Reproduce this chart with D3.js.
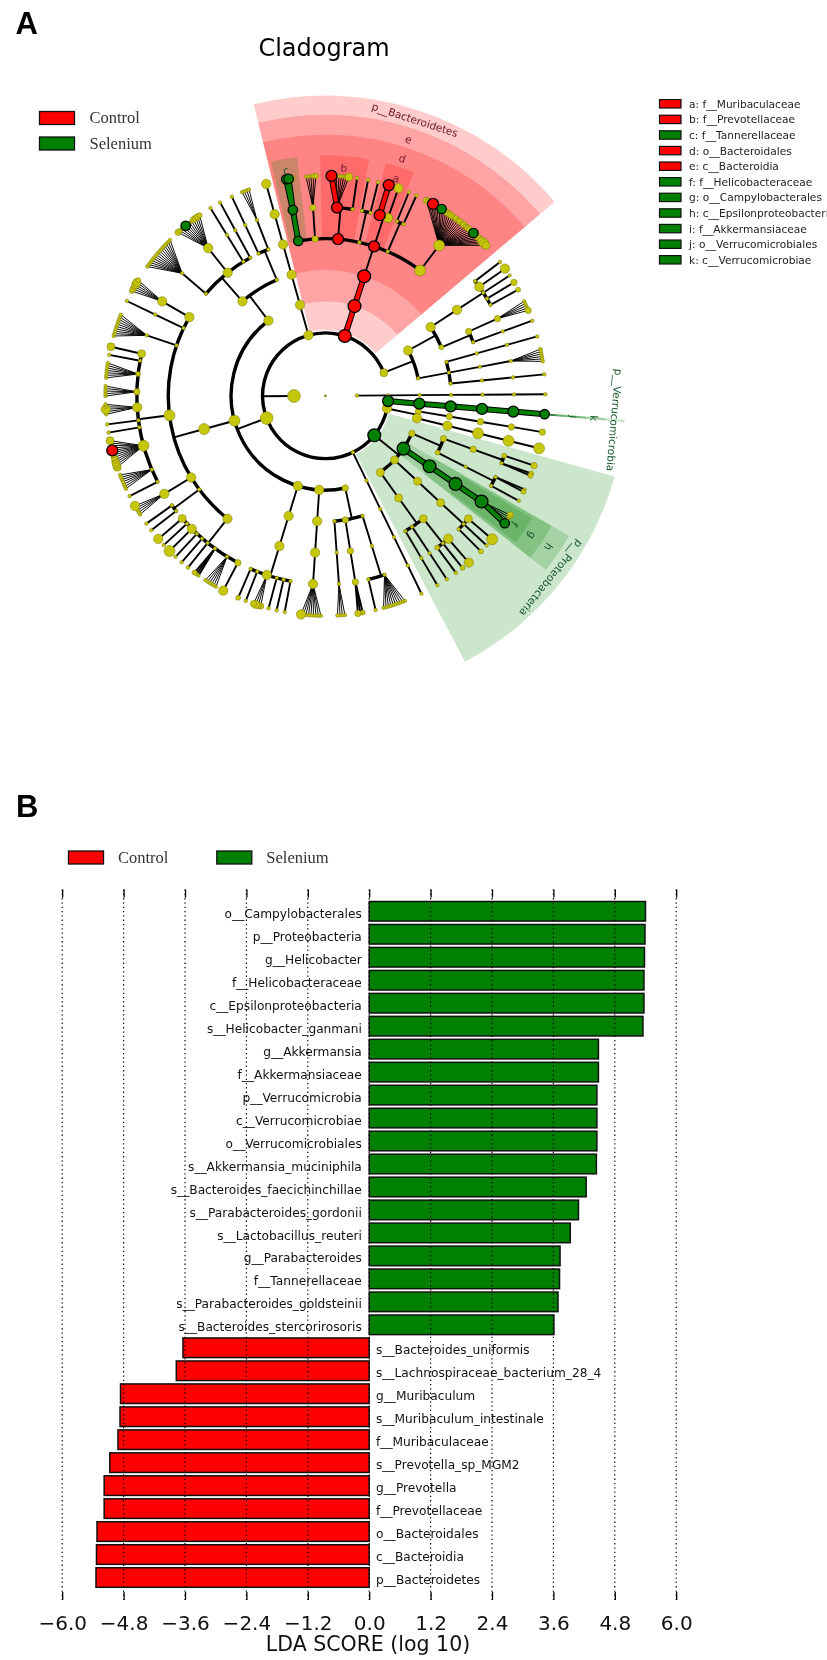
<!DOCTYPE html>
<html><head><meta charset="utf-8">
<script src="https://d3js.org/d3.v7.min.js"></script>
<style>html,body{margin:0;padding:0;background:#fff;overflow:hidden}svg{display:block;filter:blur(.4px)}</style>
</head><body><svg id="c" width="827" height="1660"></svg>
<script>
// ---------- Cladogram clades. [head, ...children]; head = size class, optional colour, optional label.
// A string child lists species: digit = size class, r / g = biomarker species, + = half a degree of extra gap.
const cladeOther = [1,[1,[1,[1,[1,[1,"1"]]]]]];
const cladeVerrucomicrobia = ["g6:p__Verrucomicrobia",["g6:k",["g6:j",["g6:i",["g6","g"]]]]];
const cladeP3 = [5,[3,[3,[3,[3,"3"]]]],[5,[5,[6,[6,"6"]]]]];
const cladeProteobacteria = ["g7:p__Proteobacteria",
  [3,[3,[3,[2,"3"],[1,"22"]]],[2,[1,[1,"+12"],[1,"+1"]]]],
  ["g7:h",["g7:g",["g7:f",["g7","3112g"]]]],
  [4,[4,[4,[4,"++6"],[1,"1"],[1,"2"]]]],
  [4,[4,[4,[5,"5"],[1,"2"],[2,"1"]],[1,[1,"1"]],[1,[1,"1"]]]]
];
const cladeThin = [1,[1,[1,[1,[1,"1"]]]]];
const cladeFirmicutes = [7,
  [3,[1,[1,[1,"1111111111"],[1,"1"]]],[3,[3,[3,"213"]]],[1,[1,[1,"1111"]]]],
  [5,[5,[5,[5,"111111115"]]]],
  [5,[5,[5,[1,"1"],[1,"1"],[1,"1"],[5,"3343"],[1,"1"],[1,"2"]]]],
  [6,[6,
    [5,[3,"5"],[1,"111111"],[1,"112"],[1,"1"],[1,"1"],[1,"1"],[5,"6"],[1,"1"],[4,"5"]],
    [1,[1,"1"],[1,"1"]],
    [5,[5,"11115"]],
    [6,[1,"1"],[1,"1111111"],[6,"4443322r1114"],[1,"1"],[1,"1"],[5,"+11511"],[3,"11111"],[2,"1111111"],[1,"1"],[4,"4"]],
    [1,[1,"1111111111"]],
    [1,[1,"++1"]],
    [5,[5,"232442"]]
  ]],
  [5,
    [5,[1,[1,"111111111111111"]],[5,[5,"3211g1113332"]],[1,[1,"+1"]],[1,[1,"1"]]],
    [1,[1,[1,"1"]],[1,[1,"1111"]]]
  ]
];
const cladeP7 = [5,[5,[5,[5,[5,"5"]]]]];
const cladeBacteroidetes = ["r7:p__Bacteroidetes",["r7:e",["r7:d",
  ["g5:c",["g5","1gg4"]],
  [3,[3,"++11122"]],
  ["r6:b",["r6","+1r1111124"],[1,"1"]],
  [1,[1,"1"],[1,"+1"]],
  ["r6:a",["r6","r"],[5,"+5"]],
  [1,[1,"1"],[1,"1"]],
  [6,[6,"333r222g333332323232332g3333554"]]
]]];
const cladeP9 = [4,
  [5,
    [5,[5,[1,"++1"],[5,"5"],[1,"1"],[1,"3"],[1,"2"]]],
    [2,[3,[3,"11113"]],[1,[1,"1"]]]
  ],
  [1,[1,[1,[1,"1"]]],[1,[1,[1,"111111"]]],[1,[1,[1,"1"]]]]
];
const bacteriaClades = [cladeVerrucomicrobia,cladeP3,cladeProteobacteria,cladeThin,cladeFirmicutes,cladeP7,cladeBacteroidetes,cladeP9];
const treeSpec = [1,cladeOther,[7,...bacteriaClades]];
// gap (degrees) between neighbouring leaves, by depth of their common ancestor
const leafGapByDepth = [5.2,4.7,4.3,3.4,2.9,2.15,0.65];
const firstLeafAngle = 89.6;
const sizeClassRadius = [0,1.8,2.5,3.2,4,4.7,5.5,6.4];

const groupNames = ["Control","Selenium"];
const cladeLegend = [
 ["a: f__Muribaculaceae","r"],["b: f__Prevotellaceae","r"],["c: f__Tannerellaceae","g"],
 ["d: o__Bacteroidales","r"],["e: c__Bacteroidia","r"],["f: f__Helicobacteraceae","g"],
 ["g: o__Campylobacterales","g"],["h: c__Epsilonproteobacteria","g"],["i: f__Akkermansiaceae","g"],
 ["j: o__Verrucomicrobiales","g"],["k: c__Verrucomicrobiae","g"]];

// ---------- LDA bars
const barLabels = ["o__Campylobacterales","p__Proteobacteria","g__Helicobacter","f__Helicobacteraceae","c__Epsilonproteobacteria","s__Helicobacter_ganmani","g__Akkermansia","f__Akkermansiaceae","p__Verrucomicrobia","c__Verrucomicrobiae","o__Verrucomicrobiales","s__Akkermansia_muciniphila","s__Bacteroides_faecichinchillae","s__Parabacteroides_gordonii","s__Lactobacillus_reuteri","g__Parabacteroides","f__Tannerellaceae","s__Parabacteroides_goldsteinii","s__Bacteroides_stercorirosoris","s__Bacteroides_uniformis","s__Lachnospiraceae_bacterium_28_4","g__Muribaculum","s__Muribaculum_intestinale","f__Muribaculaceae","s__Prevotella_sp_MGM2","g__Prevotella","f__Prevotellaceae","o__Bacteroidales","c__Bacteroidia","p__Bacteroidetes"];
const barScores = [5.40,5.39,5.38,5.37,5.37,5.35,4.48,4.48,4.45,4.45,4.45,4.44,4.24,4.09,3.93,3.73,3.72,3.69,3.61,-3.64,-3.77,-4.86,-4.87,-4.91,-5.07,-5.18,-5.18,-5.32,-5.33,-5.34];
const ldaTicks = [-6,-4.8,-3.6,-2.4,-1.2,0,1.2,2.4,3.6,4.8,6];

// ---------- drawing
const COL = {y:"#c6c60a",r:"#ff0000",g:"#008000"};
const svg = d3.select("#c");
const SANS="'DejaVu Sans'";
const text=(g,x,y,s,size,fam,extra={})=>{const t=g.append("text").attr("x",x).attr("y",y).attr("font-size",size).attr("font-family",fam).attr("dominant-baseline","central").text(s);Object.entries(extra).forEach(([k,v])=>t.attr(k,v));return t;};

text(svg,15.5,23,"A",31,"'Liberation Sans'",{"font-weight":"bold"});
text(svg,16,806,"B",31,"'Liberation Sans'",{"font-weight":"bold"});
text(svg,324,48,"Cladogram",24,SANS,{"text-anchor":"middle"});

function legendPair(g,x,y,s,c,dx){
  g.append("rect").attr("x",x).attr("y",y).attr("width",35).attr("height",13).attr("fill",c).attr("stroke","#111").attr("stroke-width",1.3);
  text(g,x+dx,y+6,s,16.5,"'Liberation Serif'",{fill:"#333"});
}
legendPair(svg,39.5,111.5,groupNames[0],COL.r,50);
legendPair(svg,39.5,137,groupNames[1],COL.g,50);
legendPair(svg,68.5,851,groupNames[0],COL.r,49.5);
legendPair(svg,216.8,851,groupNames[1],COL.g,49.5);

cladeLegend.forEach(([s,c],i)=>{
  const y=103.8+i*15.6;
  svg.append("rect").attr("x",659.5).attr("y",y-4.2).attr("width",21.5).attr("height",8.4).attr("fill",COL[c]).attr("stroke","#111").attr("stroke-width",1.2);
  text(svg,689,y,s,10.6,SANS,{fill:"#222"});
});

// parse the tree
function parse(spec){
  const head=String(spec[0]);
  const [a,label]=head.split(":");
  const m=a.match(/^([rg]?)(\d)$/);
  const node={col:m[1]||"y",size:+m[2],label,children:[]};
  spec.slice(1).forEach(k=>{
    if(typeof k==="string"){ let extra=0; [...k].forEach(ch=>{
      if(ch==="+"){extra+=0.5;return;}
      if(ch==="r"||ch==="g") node.children.push({col:ch,size:ch==="r"?6:5,extra,children:[]});
      else node.children.push({col:"y",size:+ch,extra,children:[]});
      extra=0;
    });} else node.children.push(parse(k));
  });
  return node;
}
const root=d3.hierarchy(parse(treeSpec),d=>d.children.length?d.children:null);
const lcaDepth=(a,b)=>d3.min(a.path(b),n=>n.depth);
d3.cluster().size([360,1]).separation((a,b)=>leafGapByDepth[lcaDepth(a,b)]+(a.data.extra||0))(root);
const shift=firstLeafAngle-root.leaves()[0].x;
root.eachAfter(n=>{
  if(n.children){const lv=n.leaves();n.t0=lv[0].theta;n.t1=lv[lv.length-1].theta;n.theta=(n.t0+n.t1)/2;}
  else {n.theta=n.x+shift;n.t0=n.t1=n.theta;}
});

const cx=325.4,cy=395.8;
const rScale=d3.scaleLinear().domain([0,7]).range([0,220]);
const rad=d3.scaleLinear().domain([0,360]).range([0,2*Math.PI]);
const P=(t,r)=>d3.pointRadial(rad(t),r);
const g=svg.append("g").attr("transform",`translate(${cx},${cy})`);

// wedges
const outerFrac={2:1.365,3:1.278,4:1.187,5:1.093};
const labelFrac={2:1.32,3:1.226,4:1.135,5:1.04};
const marked=root.descendants().filter(n=>n.data.col!=="y"&&n.depth>=2&&n.depth<=5);
const wedge=d3.arc();
marked.forEach(n=>{
  const w=n.t1-n.t0, mg=w>0?(n.depth===5?2.2:2.9):0.25;
  g.append("path").attr("d",wedge({innerRadius:n.depth===2?rScale(2)+3:rScale(n.depth),outerRadius:220*outerFrac[n.depth],startAngle:rad(n.t0-mg),endAngle:rad(n.t1+mg)}))
   .attr("fill",COL[n.data.col]).attr("fill-opacity",0.2);
});

// edges
const edges=g.append("g").attr("fill","none").attr("stroke","#000");
const line=(a,b,w,c)=>edges.append("line").attr("x1",a[0]).attr("y1",a[1]).attr("x2",b[0]).attr("y2",b[1]).attr("stroke",c).attr("stroke-width",w).attr("stroke-linecap","round");
const bands=[];
root.descendants().forEach(n=>{
  if(!n.children||n.depth===0) return;
  const kids=n.children, from=P(n.theta,rScale(n.depth)), leafLevel=n.depth===6;
  if(kids.length>1&&!leafLevel){
    const r=rScale(n.depth+1);
    edges.append("path").attr("d",wedge({innerRadius:r,outerRadius:r,startAngle:rad(kids[0].theta),endAngle:rad(kids[kids.length-1].theta)})).attr("stroke-width",3.4).attr("stroke-linejoin","round");
    line(from,P(n.theta,r),1.9,"#000");
  } else kids.forEach(k=>{
    const to=P(k.theta,rScale(k.depth));
    if(k.data.col!=="y"&&n.data.col===k.data.col) bands.push([from,to,k.data.col]);
    else line(from,to,leafLevel&&kids.length>3?0.95:1.9,"#000");
  });
});
bands.forEach(b=>line(b[0],b[1],6,"#000"));
bands.forEach(b=>line(b[0],b[1],4,COL[b[2]]));

// nodes
const nodes=root.descendants().filter(n=>n.depth>0).sort((a,b)=>(a.data.col!=="y")-(b.data.col!=="y"));
g.selectAll("circle").data(nodes).join("circle")
 .attr("cx",d=>P(d.theta,rScale(d.depth))[0]).attr("cy",d=>P(d.theta,rScale(d.depth))[1])
 .attr("r",d=>sizeClassRadius[d.data.size]).attr("fill",d=>COL[d.data.col])
 .attr("stroke",d=>d.data.col==="y"?"#77770a":"#000").attr("stroke-width",d=>d.data.col==="y"?0.5:1.3);
g.append("circle").attr("r",1.4).attr("fill","#8a8a20");

// wedge labels
marked.filter(n=>n.data.label).forEach(n=>{
  const p=P(n.theta,220*labelFrac[n.depth]);
  g.append("text").attr("transform",`translate(${p[0]},${p[1]}) rotate(${n.theta})`)
   .attr("text-anchor","middle").attr("dominant-baseline","central").attr("font-family",SANS).attr("font-size",10.5)
   .attr("fill",n.data.col==="r"?"#701528":"#14562a").text(n.data.label);
});

// ---------- bars
const x=d3.scaleLinear().domain([-6,6]).range([62.2,676.2]);
const y=d3.scaleBand().domain(barLabels).range([899.8,1589]).paddingInner(0.147).paddingOuter(0.0735);
const bar=svg.append("g");
bar.selectAll("rect").data(barLabels).join("rect")
  .attr("x",(d,i)=>x(Math.min(0,barScores[i]))).attr("y",d=>y(d))
  .attr("width",(d,i)=>Math.abs(x(barScores[i])-x(0))).attr("height",y.bandwidth())
  .attr("fill",(d,i)=>barScores[i]>0?COL.g:COL.r).attr("stroke","#111").attr("stroke-width",1.5);
bar.selectAll("text").data(barLabels).join("text")
  .attr("x",(d,i)=>barScores[i]>0?361.8:376).attr("y",d=>y(d)+y.bandwidth()/2+2.6)
  .attr("text-anchor",(d,i)=>barScores[i]>0?"end":"start").attr("dominant-baseline","central")
  .attr("font-family",SANS).attr("font-size",12.2).attr("fill","#111").text(d=>d);
bar.selectAll("line.grid").data(ldaTicks).join("line").attr("class","grid")
  .attr("x1",d=>x(d)).attr("x2",d=>x(d)).attr("y1",889.5).attr("y2",1600)
  .attr("stroke","#000").attr("stroke-width",1.2).attr("stroke-dasharray","1.3 3");
const fmt=d3.format(".1f");
const axB=svg.append("g").attr("transform","translate(0,1600)").call(d3.axisBottom(x).tickValues(ldaTicks).tickSizeInner(-8).tickSizeOuter(0).tickPadding(16).tickFormat(fmt));
const axT=svg.append("g").attr("transform","translate(0,889.5)").call(d3.axisTop(x).tickValues(ldaTicks).tickSizeInner(-8).tickSizeOuter(0).tickFormat(""));
[axB,axT].forEach(a=>{a.select(".domain").remove();a.selectAll("line").attr("stroke","#000").attr("stroke-width",1.3);});
axB.selectAll("text").attr("font-family",SANS).attr("font-size",20).attr("fill","#111");
text(svg,368,1644,"LDA SCORE (log 10)",20.5,SANS,{"text-anchor":"middle",fill:"#111"});
</script></body></html>
